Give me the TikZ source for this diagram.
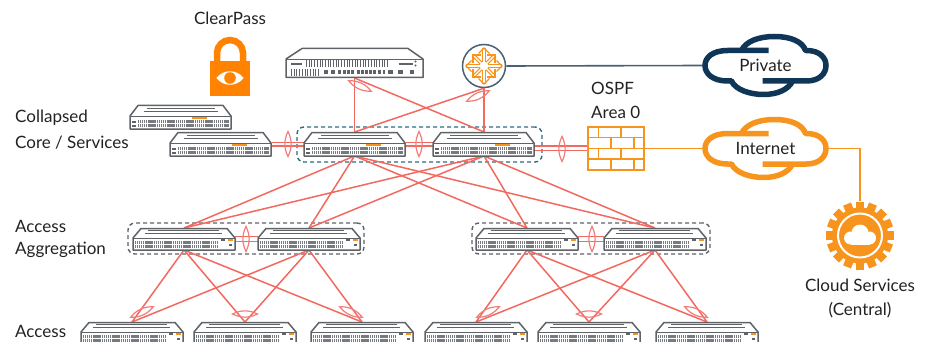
\documentclass[tikz,border=0pt]{standalone}
\usepackage{fontspec}
\setmainfont{Lato}
\definecolor{linkred}{HTML}{F2695F}
\definecolor{lagpink}{HTML}{F27C78}
\definecolor{hw}{HTML}{5F6367}
\definecolor{org}{HTML}{F7941D}
\definecolor{lockorg}{HTML}{FF8300}
\definecolor{navy}{HTML}{0F3557}
\definecolor{slate}{HTML}{4A6172}
\definecolor{tealdash}{HTML}{2B6C80}
\definecolor{txt}{HTML}{222222}
\tikzset{
  x=1pt,y=-1pt,
  lbl/.style={font=\fontsize{17}{20}\selectfont,text=txt,inner sep=0pt},
  anchorbox/.style={inner sep=0pt,outer sep=0pt,minimum width=#1},
  link/.style={draw=linkred,line width=1.5pt},
  lagline/.style={draw=lagpink,line width=1.2pt},
  hwline/.style={draw=hw,line width=1.5pt,line join=round},
  portrow/.style={draw=hw!85,line width=3pt,dash pattern=on 1.3pt off 0.6pt},
  group/.style={dashed,dash pattern=on 4pt off 3pt,line width=1.4pt,rounded corners=7pt},
  cloudline/.style={line width=5.5pt,line cap=butt,line join=round},
  pics/lagmark/.style={code={
    \draw[lagline] (-12.5,0) .. controls (-4,-4.2) and (4,-4.2) .. (12.5,0)
                   .. controls (4,4.2) and (-4,4.2) .. (-12.5,0) -- cycle;}},
  pics/coresw/.style={code={
    \draw[hwline,fill=white] (0,11)--(8,0.5)--(93,0.5)--(101,11)--(101,24)--(0,24)--cycle;
    \draw[hwline,line width=0.9pt] (0,11)--(101,11);
    \draw[hw,line width=1.3pt] (17,3.4)--(85,3.4) (14,6.6)--(88,6.6);
    \draw[org,line width=1.5pt] (62,13)--(77,13);
    \draw[portrow] (8,16.5)--(99,16.5);
    \draw[portrow] (8,20.5)--(99,20.5);
    \fill[hw] (2,15.5) rectangle (6,17.5);
    \fill[hw] (2,19.5) rectangle (6,21.5);}},
  pics/accsw/.style={code={
    \draw[hwline,fill=white] (0,10)--(8,0.5)--(94,0.5)--(102,10)--(102,22)--(0,22)--cycle;
    \draw[hwline,line width=0.9pt] (0,10)--(102,10);
    \draw[hw,line width=1.3pt] (15,2.8)--(86,2.8) (12,5.8)--(89,5.8);
    \draw[org,line width=1.4pt] (95,12)--(100,12);
    \draw[portrow] (2,14.5)--(85,14.5);
    \draw[portrow] (2,18.5)--(85,18.5);
    \fill[hw] (88,11) rectangle (92,13);
    \fill[hw] (96,16) rectangle (99,18);}},
  pics/cloudshape/.style={code={
    \draw[cloudline,draw=#1] (3,-15) -- (-38,-15) .. controls (-53,-15) and (-60.5,-8) .. (-60.5,0)
      .. controls (-60.5,8) and (-53,15.5) .. (-38,15.5) -- (-34,15.5)
      .. controls (-30,24.5) and (-15,29) .. (-2,29) .. controls (12,29) and (23,24) .. (27,15.5);
    \draw[cloudline,draw=#1] (-3,15.5) -- (41,15.5) .. controls (54,15.5) and (60.5,8) .. (60.5,0)
      .. controls (60.5,-8) and (54,-15) .. (41,-15) -- (40,-15)
      .. controls (37,-24) and (25,-29) .. (9,-29) .. controls (-7,-29) and (-20,-24) .. (-24,-15);}},
}
\begin{document}
\begin{tikzpicture}
\useasboundingbox (0,0) rectangle (933,342);
\clip (0,0) rectangle (933,342);

% ---------- anchor nodes ----------
\node[anchorbox=102pt,minimum height=24pt] (bk)    at (181,117) {};
\node[anchorbox=102pt,minimum height=24pt] (front) at (220.5,144) {};
\node[anchorbox=102pt,minimum height=24pt] (corea) at (354.5,144) {};
\node[anchorbox=102pt,minimum height=24pt] (coreb) at (484,144) {};
\node[anchorbox=137pt,minimum height=30pt] (appl)  at (354.5,63) {};
\node[circle,draw=slate,line width=1.5pt,fill=white,minimum size=43pt,inner sep=0pt] (rtr) at (484,66) {};
\node[anchorbox=102pt,minimum height=22pt] (aga) at (184,239) {};
\node[anchorbox=102pt,minimum height=22pt] (agb) at (309,239) {};
\node[anchorbox=102pt,minimum height=22pt] (agc) at (527,239) {};
\node[anchorbox=102pt,minimum height=22pt] (agd) at (655,239) {};
\node[anchorbox=102pt,minimum height=22pt] (aca) at (132,333) {};
\node[anchorbox=102pt,minimum height=22pt] (acb) at (245,333) {};
\node[anchorbox=102pt,minimum height=22pt] (acc) at (362,333) {};
\node[anchorbox=102pt,minimum height=22pt] (acd) at (476,333) {};
\node[anchorbox=102pt,minimum height=22pt] (ace) at (589,333) {};
\node[anchorbox=102pt,minimum height=22pt] (acf) at (707,333) {};
\node[anchorbox=56pt,minimum height=43pt] (fw) at (616,148.5) {};
\node[lbl,minimum width=125pt,minimum height=62pt] (priv) at (765.5,65.5) {Private};
\node[lbl,minimum width=125pt,minimum height=62pt] (inet) at (765.5,148.5) {Internet};
\node[circle,inner sep=0pt,minimum size=68pt] (gear) at (860,235.5) {};

% ---------- dashed groups ----------
\node[draw=tealdash,group,inner sep=0pt,minimum width=245pt,minimum height=35pt] (grpcore) at (419.5,144.5) {};
\node[draw=hw,group,inner sep=0pt,minimum width=236pt,minimum height=31pt] (grpl) at (246,238.5) {};
\node[draw=hw,group,inner sep=0pt,minimum width=238pt,minimum height=31pt] (grpr) at (591,238.5) {};

% ---------- links ----------
\draw[link] (appl.south) -- (corea.north);
\draw[link] (appl.south) -- (coreb.north);
\draw[link] (rtr.south) -- (corea.north);
\draw[link] (rtr.south) -- (coreb.north);
\foreach \c in {corea,coreb}{
  \foreach \g in {aga,agb,agc,agd}{ \draw[link] (\c.south) -- (\g.north); }
}
\foreach \g in {aga,agb}{ \foreach \a in {aca,acb,acc}{ \draw[link] (\g.south) -- (\a.north); } }
\foreach \g in {agc,agd}{ \foreach \a in {acd,ace,acf}{ \draw[link] (\g.south) -- (\a.north); } }

% doubled horizontal links
\foreach \l/\r in {front/corea,corea/coreb}{
  \draw[link] ([yshift=1.3pt]\l.east) -- ([yshift=1.3pt]\r.west);
  \draw[link] ([yshift=-2pt]\l.east) -- ([yshift=-2pt]\r.west);
}
\foreach \l/\r in {aga/agb,agc/agd}{
  \draw[link] ([yshift=2.3pt]\l.east) -- ([yshift=2.3pt]\r.west);
  \draw[link] ([yshift=-2.7pt]\l.east) -- ([yshift=-2.7pt]\r.west);
}
\draw[link] ([yshift=-2pt]coreb.east) -- ([yshift=2.5pt]fw.west);
\draw[link] ([yshift=-6.7pt]coreb.east) -- ([yshift=-2.2pt]fw.west);

% LAG marks
\pic[rotate=-25] at (360,86) {lagmark};
\pic[rotate=25] at (478,96) {lagmark};
\pic[rotate=90] at (288,144) {lagmark};
\pic[rotate=90] at (419,144) {lagmark};
\pic[rotate=90] at (562,149) {lagmark};
\pic[rotate=90] at (246,239) {lagmark};
\pic[rotate=90] at (592,239) {lagmark};
\pic[rotate=25] at (142,312) {lagmark};
\pic at (245,314) {lagmark};
\pic[rotate=-25] at (351,312) {lagmark};
\pic[rotate=25] at (488,312) {lagmark};
\pic at (589,314) {lagmark};
\pic[rotate=-25] at (696,312) {lagmark};

% other connectors
\draw[slate,line width=1.6pt] (rtr.east) -- (priv.west);
\draw[org,line width=1.5pt] (fw.east) -- (inet.west);
\draw[org,line width=1.5pt] (inet.east) -- (inet.east -| gear.north) -- (gear.north);

% ---------- switches ----------
\pic at (130,105) {coresw};
\pic at (170,132) {coresw};
\pic at (304,132) {coresw};
\pic at (433,132) {coresw};
\foreach \x in {133,258,476,604}{ \pic at (\x,228) {accsw}; }
\foreach \x in {81,194,311,425,538,656}{ \pic at (\x,322) {accsw}; }

% ---------- appliance ----------
\begin{scope}[shift={(286,48)}]
  \draw[hwline,fill=white] (0,11)--(16,0.5)--(122,0.5)--(137,11)--(137,29.5)--(0,29.5)--cycle;
  \draw[hwline,line width=0.9pt] (0,11)--(137,11);
  \draw[hw,line width=1.1pt] (5,16)--(16,16) (113,16)--(127,16);
  \draw[draw=hw,line width=6.5pt,dash pattern=on 1pt off 1.7pt] (20,15.5)--(103,15.5);
  \draw[draw=hw,line width=6.5pt,dash pattern=on 1pt off 1.7pt] (5,24.5)--(34,24.5);
  \foreach \x/\w in {38/4,45/4,52/3,56.5/3,61/3,65/3,71/3,75/3,79/3,83/3,87/3,92/3,97/2,102/5,112/5,124/4}{
    \fill[hw] (\x,22.5) rectangle +(\w,4);}
  \fill[hw] (129.5,13.5) circle (1.1) (129.5,17.5) circle (1.1);
\end{scope}

% ---------- router glyph ----------
\begin{scope}[shift={(rtr.center)}]
  \foreach \a/\r in {0/18,90/18,180/18,270/18,45/15.5,135/15.5,225/15.5,315/15.5}{
    \begin{scope}[rotate=\a]
      \draw[org,line width=1.1pt] (4,-1.3)--(\r,-1.3) (4,1.3)--(\r,1.3);
      \draw[org,line width=1.3pt] (\r-5.5,-5.5)--(\r,0)--(\r-5.5,5.5);
    \end{scope}}
  \fill[white] (0,0) circle (3);
\end{scope}

% ---------- firewall ----------
\begin{scope}[shift={(588,127)}]
  \draw[org,line width=1.4pt] (0,0) rectangle (56,43);
  \draw[org,line width=1.4pt] (0,10.7)--(56,10.7) (0,21.4)--(56,21.4) (0,32.1)--(56,32.1);
  \draw[org,line width=1.4pt] (10.5,0)--(10.5,10.7) (33,0)--(33,10.7)
    (23,10.7)--(23,21.4) (46,10.7)--(46,21.4)
    (10.5,21.4)--(10.5,32.1) (33,21.4)--(33,32.1)
    (23,32.1)--(23,43) (46,32.1)--(46,43);
\end{scope}

% ---------- clouds ----------
\pic at (priv.center) {cloudshape=navy};
\pic at (inet.center) {cloudshape=org};

% ---------- lock ----------
\draw[lockorg,line width=6.5pt] (217,62) -- (217,53) arc[start angle=180,end angle=360,radius=13] -- (243,62);
\fill[lockorg] (210,61) rectangle (250,96);
\fill[white] (216.5,78) .. controls (223,69) and (237,69) .. (243.5,78)
              .. controls (237,87) and (223,87) .. (216.5,78) -- cycle;
\fill[lockorg] (230,78) circle (5.8);

% ---------- gear ----------
\fill[org] (gear.center) circle (28);
\foreach \a in {0,22.5,...,337.5}{
  \fill[org,shift={(gear.center)},rotate=\a] (-4.2,-34) rectangle (4.2,-26);
}
\draw[white,line width=2pt] (gear.center) circle (22);
\begin{scope}[shift={(gear.center)}]
  \fill[white] (-9.5,2.5) circle (6.5) (0,-2.5) circle (8.5) (9.5,2.5) circle (6.5);
  \fill[white] (-9.5,1) rectangle (9.5,9);
\end{scope}

% ---------- labels ----------
\node[lbl] (tcp) at (230,18) {ClearPass};
\node[lbl,anchor=west] (tcol) at (15,118) {Collapsed};
\node[lbl,anchor=west] (tcor) at (15,143) {Core / Services};
\node[lbl,anchor=west] (taa) at (15,226) {Access};
\node[lbl,anchor=west] (tag) at (15,250) {Aggregation};
\node[lbl,anchor=west] (tac) at (15,331) {Access};
\node[lbl,anchor=west] (tos) at (591,88) {OSPF};
\node[lbl,anchor=west] (tar) at (591,112) {Area 0};
\node[lbl] (tcs) at (860,285) {Cloud Services};
\node[lbl] (tce) at (860,310) {(Central)};
\end{tikzpicture}
\end{document}
